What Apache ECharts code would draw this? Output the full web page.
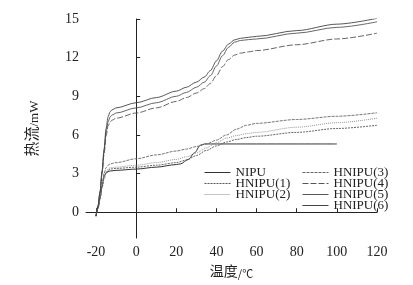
<!DOCTYPE html>
<html><head><meta charset="utf-8">
<script src="https://cdn.jsdelivr.net/npm/echarts@6/dist/echarts.min.js"></script>
<style>html,body{margin:0;padding:0;background:#fff}#c{width:413px;height:285px}</style>
</head><body><div id="c"></div>
<script>
var xTicks = [-20, 0, 20, 40, 60, 80, 100, 120];
var yTicks = [0, 3, 6, 9, 12, 15];

var xUpper = [-20, -19, -18, -17, -16, -15, -14, -13, -12, -10, 0, 10, 20, 25, 30, 34, 37, 40, 43, 46, 49, 52, 56, 60, 80, 100, 120];
var hnipu6 = [-0.3, 0.5, 1.6, 3.2, 4.9, 6.5, 7.4, 7.8, 7.95, 8.1, 8.5, 8.9, 9.4, 9.7, 10.1, 10.5, 11.0, 11.75, 12.5, 13.05, 13.38, 13.5, 13.58, 13.65, 14.1, 14.6, 15.05];
var hnipu5 = [-0.3, 0.5, 1.6, 3.1, 4.7, 6.2, 7.0, 7.4, 7.55, 7.7, 8.1, 8.5, 9.0, 9.3, 9.7, 10.1, 10.6, 11.35, 12.15, 12.8, 13.2, 13.33, 13.4, 13.45, 13.9, 14.35, 14.78];
var hnipu4 = [-0.3, 0.5, 1.5, 3.0, 4.5, 5.9, 6.7, 7.0, 7.15, 7.3, 7.7, 8.1, 8.6, 8.9, 9.25, 9.6, 10.0, 10.6, 11.3, 11.85, 12.2, 12.35, 12.45, 12.55, 13.0, 13.45, 13.9];

var xLower = [-20, -19, -18, -17, -16, -15, -14, -13, -10, 0, 10, 20, 25, 30, 35, 40, 45, 50, 55, 60, 80, 100, 120];
var hnipu3 = [-0.3, 0.4, 1.2, 2.2, 3.0, 3.45, 3.65, 3.75, 3.85, 4.15, 4.45, 4.75, 4.9, 5.1, 5.3, 5.6, 6.0, 6.45, 6.75, 6.9, 7.2, 7.45, 7.72];
var hnipu2 = [-0.3, 0.4, 1.1, 2.0, 2.7, 3.1, 3.35, 3.45, 3.5, 3.65, 3.85, 4.1, 4.3, 4.6, 5.0, 5.4, 5.75, 5.95, 6.1, 6.2, 6.6, 6.95, 7.3];
var hnipu1 = [-0.3, 0.3, 1.0, 1.9, 2.6, 3.0, 3.25, 3.35, 3.4, 3.5, 3.65, 3.85, 4.05, 4.4, 4.8, 5.15, 5.45, 5.65, 5.8, 5.9, 6.2, 6.5, 6.75];

var xNipu = [-20, -19, -18, -17, -16, -15, -14, -13, -10, 0, 10, 20, 22, 26, 29, 32, 34, 40, 60, 80, 100];
var nipu = [-0.3, 0.3, 1.1, 2.0, 2.8, 3.05, 3.15, 3.2, 3.25, 3.35, 3.5, 3.7, 3.75, 4.1, 4.6, 5.2, 5.3, 5.3, 5.3, 5.3, 5.3];

var names = ['NIPU', 'HNIPU(1)', 'HNIPU(2)', 'HNIPU(3)', 'HNIPU(4)', 'HNIPU(5)', 'HNIPU(6)'];

function pairs(xs, ys) { return xs.map(function (x, i) { return [x, ys[i]]; }); }

var serif = 'Liberation Serif';
function mk(name, xs, ys, color, type, w) {
  return {
    name: name, type: 'line', data: pairs(xs, ys), symbol: 'none',
    smooth: 0.3, smoothMonotone: 'x',
    lineStyle: { color: color, width: w || 0.9, type: type },
    itemStyle: { color: color }
  };
}

var chart = echarts.init(document.getElementById('c'), null, { renderer: 'canvas' });
var legendText = { fontFamily: serif, fontSize: 13, color: '#222' };
var legendCommon = { orient: 'vertical', top: 166, itemWidth: 26, itemHeight: 10, itemGap: -2, textStyle: legendText, padding: 0,
  itemStyle: { opacity: 0 }, lineStyle: { width: 1 } };
chart.setOption({
  animation: false,
  backgroundColor: '#fff',
  grid: { left: 86, right: 36, top: 19, bottom: 47, containLabel: false, outerBoundsMode: 'none' },
  legend: [
    Object.assign({ data: names.slice(0, 3), left: 204 }, legendCommon),
    Object.assign({ data: names.slice(3), left: 302 }, legendCommon)
  ],
  xAxis: {
    type: 'value', min: -25, max: 120,
    name: '{a|温度}{b|/℃}', nameLocation: 'middle', nameGap: 21,
    nameTextStyle: { rich: {
      a: { fontFamily: 'Noto Sans CJK SC', fontSize: 14, color: '#222' },
      b: { fontFamily: 'Noto Sans CJK SC', fontSize: 11, color: '#222', verticalAlign: 'bottom', padding: [6, 0, 0, 0] } } },
    axisLine: { lineStyle: { color: '#222', width: 1 } },
    axisTick: { inside: true, length: 4, customValues: xTicks, lineStyle: { color: '#222' } },
    axisLabel: { customValues: xTicks, fontFamily: serif, fontSize: 14, color: '#222', margin: 7 },
    splitLine: { show: false }
  },
  yAxis: {
    type: 'value', min: -2, max: 15,
    name: '{a|热流}{b|/mW}', nameLocation: 'middle', nameGap: 45, nameRotate: 90,
    nameTextStyle: { rich: {
      a: { fontFamily: 'Noto Sans CJK SC', fontSize: 15, color: '#222' },
      b: { fontFamily: serif, fontSize: 13, color: '#222', verticalAlign: 'bottom', padding: [6, 0, 0, 0] } } },
    axisLine: { show: true, lineStyle: { color: '#222', width: 1 } },
    axisTick: { show: true, inside: true, length: 4, customValues: yTicks, lineStyle: { color: '#222' } },
    axisLabel: { customValues: yTicks, fontFamily: serif, fontSize: 14, color: '#222', margin: 7 },
    splitLine: { show: false }
  },
  series: [
    mk(names[0], xNipu, nipu, '#333', 'solid', 1),
    mk(names[1], xLower, hnipu1, '#555', [2, 1]),
    mk(names[2], xLower, hnipu2, '#888', [1, 1]),
    mk(names[3], xLower, hnipu3, '#666', [3, 1]),
    mk(names[4], xUpper, hnipu4, '#555', [6, 2]),
    mk(names[5], xUpper, hnipu5, '#555', 'solid'),
    mk(names[6], xUpper, hnipu6, '#444', 'solid')
  ]
});
</script></body></html>
